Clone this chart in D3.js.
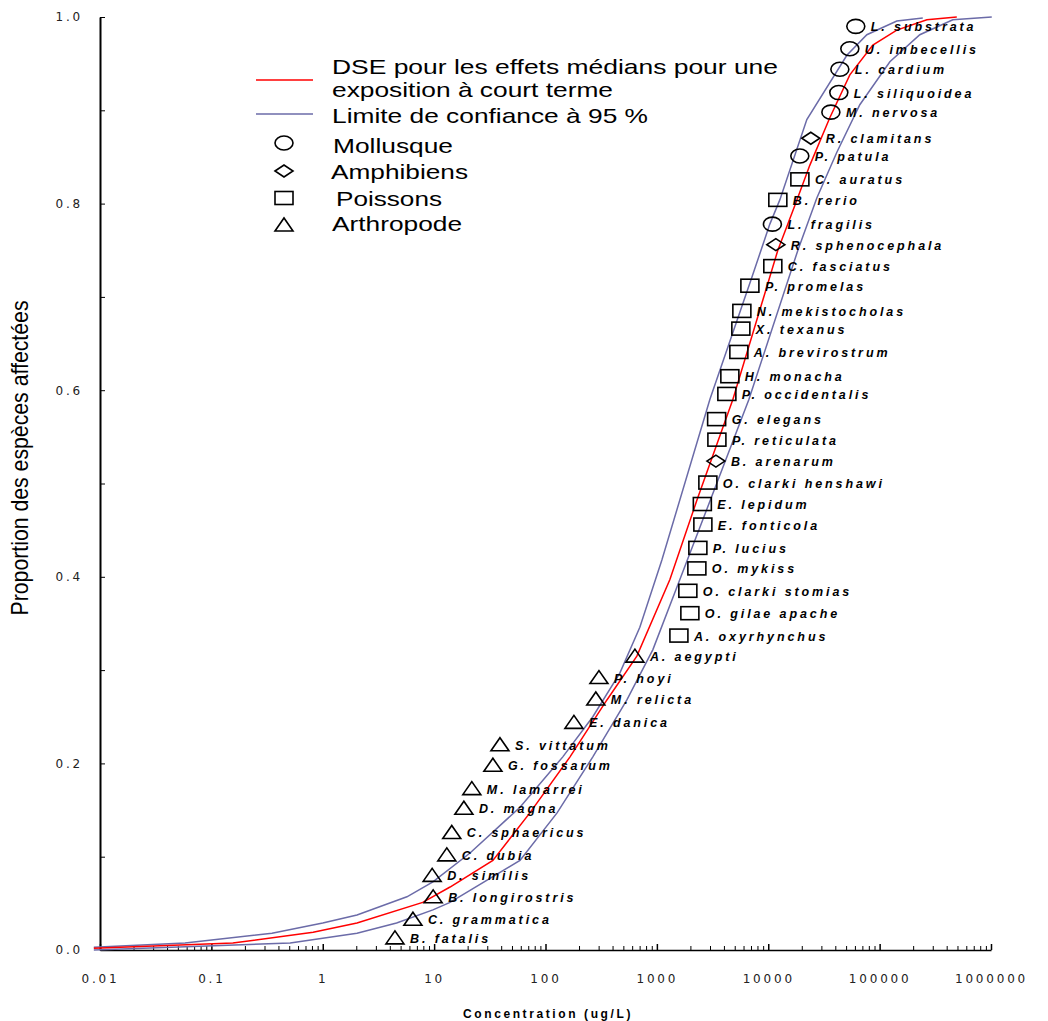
<!DOCTYPE html>
<html>
<head>
<meta charset="utf-8">
<script src="https://cdn.jsdelivr.net/npm/d3@7"></script>
<style>
  body { margin: 0; background: #fff; }
  .tick text { font-family: "DejaVu Sans", sans-serif; font-size: 12px; letter-spacing: 2.8px; fill: #222; }
  .sp { font-family: "Liberation Sans", Arial, sans-serif; font-size: 12.5px; font-weight: bold; font-style: italic; letter-spacing: 2.9px; }
  .leg { font-family: "Liberation Sans", Arial, sans-serif; font-size: 21px; }
</style>
</head>
<body>
<script>
// species, bottom to top
var species = ["B. fatalis", "C. grammatica", "B. longirostris", "D. similis", "C. dubia",
  "C. sphaericus", "D. magna", "M. lamarrei", "G. fossarum", "S. vittatum",
  "E. danica", "M. relicta", "P. hoyi", "A. aegypti", "A. oxyrhynchus",
  "O. gilae apache", "O. clarki stomias", "O. mykiss", "P. lucius", "E. fonticola",
  "E. lepidum", "O. clarki henshawi", "B. arenarum", "P. reticulata", "G. elegans",
  "P. occidentalis", "H. monacha", "A. brevirostrum", "X. texanus", "N. mekistocholas",
  "P. promelas", "C. fasciatus", "R. sphenocephala", "L. fragilis", "B. rerio",
  "C. auratus", "P. patula", "R. clamitans", "M. nervosa", "L. siliquoidea",
  "L. cardium", "U. imbecellis", "L. substrata"];
// A = arthropode, P = poisson, F = amphibien, M = mollusque
var groups = ["A","A","A","A","A","A","A","A","A","A",
  "A","A","A","A","P","P","P","P","P","P",
  "P","P","F","P","P","P","P","P","P","P",
  "P","P","F","M","P","P","M","F","M","M",
  "M","M","M"];
var conc = [4.45, 6.45, 9.8, 9.6, 13.0, 14.4, 18.5, 21.8, 33.7, 39,
  180, 283, 302, 635, 1577, 1978, 1897, 2286, 2334, 2588,
  2560, 2870, 3388, 3459, 3440, 4250, 4521, 5446, 5675, 5795,
  6842, 10990, 11700, 10900, 12190, 19230, 19200, 24100, 36500, 43000,
  43950, 54000, 61100];
var prop = [0.013, 0.033, 0.057, 0.080, 0.102, 0.126, 0.152, 0.173, 0.198, 0.220,
  0.244, 0.269, 0.292, 0.315, 0.337, 0.361, 0.385, 0.409, 0.431, 0.456,
  0.478, 0.501, 0.524, 0.547, 0.569, 0.596, 0.615, 0.641, 0.666, 0.685,
  0.712, 0.733, 0.756, 0.778, 0.804, 0.826, 0.851, 0.870, 0.898, 0.919,
  0.944, 0.966, 0.990];

// fitted curve (median) and 95% limits
var medConc = [0.0088, 0.156, 0.82, 2.03, 7.9, 13.9, 33.7, 72.4, 166, 356, 661, 1309, 2286, 4810, 12190, 17330, 23600, 35700, 54000, 86900, 142600, 265500, 493000];
var medProp = [0.002, 0.0075, 0.019, 0.029, 0.051, 0.0675, 0.096, 0.147, 0.207, 0.268, 0.315, 0.397, 0.482, 0.590, 0.750, 0.798, 0.841, 0.892, 0.938, 0.970, 0.986, 0.997, 1.0];
var upConc = [0.0088, 0.058, 0.35, 1.0, 2.03, 5.7, 9.75, 21, 59, 143, 266, 466, 703, 1109, 2990, 7130, 10330, 12700, 22200, 50800, 76800, 142600, 244000];
var upProp = [0.003, 0.0075, 0.018, 0.029, 0.0375, 0.057, 0.073, 0.104, 0.153, 0.207, 0.250, 0.297, 0.346, 0.418, 0.590, 0.721, 0.778, 0.804, 0.890, 0.959, 0.981, 0.9957, 0.9989];
var loConc = [0.0088, 0.51, 2.03, 4.6, 9.75, 13.9, 59, 127, 266, 538, 921, 1608, 6700, 18450, 27300, 41300, 66400, 123600, 229600, 454000, 1016000];
var loProp = [0.0, 0.0075, 0.018, 0.029, 0.043, 0.051, 0.096, 0.147, 0.207, 0.268, 0.322, 0.397, 0.590, 0.750, 0.806, 0.855, 0.906, 0.952, 0.981, 0.997, 1.0];

var xTicks = [0.01, 0.1, 1, 10, 100, 1000, 10000, 100000, 1000000];
var yTicks = [0, 0.2, 0.4, 0.6, 0.8, 1.0];
var yMinor = [0.1, 0.3, 0.5, 0.7, 0.9];

var legendItems = ["Mollusque", "Amphibiens", "Poissons", "Arthropode"];
var legendShapes = ["M", "F", "P", "A"];

var width = 1048, height = 1021;
var x = d3.scaleLog().domain([0.01, 1000000]).range([100, 991]);
var y = d3.scaleLinear().domain([0, 1]).range([950, 17]);

var svg = d3.select("body").append("svg")
    .attr("width", width)
    .attr("height", height);

// minor ticks on the log axis
var minorX = [];
xTicks.slice(0, -1).forEach(function(d) {
  for (var k = 2; k <= 9; k++) minorX.push(d * k);
});

svg.append("g")
    .attr("transform", "translate(0," + y(0) + ")")
    .call(d3.axisBottom(x).tickValues(minorX).tickSize(-4).tickSizeOuter(0).tickFormat(""))
    .call(function(g) { g.select(".domain").attr("stroke-width", 1.5); });

svg.append("g")
    .attr("transform", "translate(0," + y(0) + ")")
    .call(d3.axisBottom(x).tickValues(xTicks).tickSize(-6).tickSizeOuter(0)
      .tickPadding(24).tickFormat(function(d) { return d3.format("")(d); }))
    .call(function(g) { g.select(".domain").remove(); g.selectAll("line").attr("stroke-width", 1.5); });

svg.append("g")
    .attr("transform", "translate(" + x(0.01) + ",0)")
    .call(d3.axisLeft(y).tickValues(yMinor).tickSize(-5).tickSizeOuter(0).tickFormat(""))
    .call(function(g) { g.select(".domain").attr("stroke-width", 2); });

svg.append("g")
    .attr("transform", "translate(" + x(0.01) + ",0)")
    .call(d3.axisLeft(y).tickValues(yTicks).tickSize(-5).tickSizeOuter(0)
      .tickPadding(17).tickFormat(d3.format(".1f")))
    .call(function(g) { g.select(".domain").remove(); });

// axis titles
svg.append("text")
    .attr("x", 548).attr("y", 1018)
    .attr("text-anchor", "middle")
    .style("font-family", "'Liberation Sans', Arial, sans-serif")
    .style("font-size", "12px").style("font-weight", "bold")
    .style("letter-spacing", "2.6px")
    .text("Concentration (ug/L)");

svg.append("text")
    .attr("transform", "translate(28,458) rotate(-90)")
    .attr("text-anchor", "middle")
    .attr("textLength", 315).attr("lengthAdjust", "spacingAndGlyphs")
    .style("font-family", "'Liberation Sans', Arial, sans-serif")
    .style("font-size", "24px")
    .text("Proportion des espèces affectées");

// curves
var line = d3.line().x(function(d) { return x(d[0]); }).y(function(d) { return y(d[1]); });
function pairs(a, b) { return a.map(function(v, i) { return [v, b[i]]; }); }

svg.append("path").datum(pairs(upConc, upProp))
    .attr("d", line).attr("fill", "none").attr("stroke", "#6b6ba8").attr("stroke-width", 1.5);
svg.append("path").datum(pairs(loConc, loProp))
    .attr("d", line).attr("fill", "none").attr("stroke", "#6b6ba8").attr("stroke-width", 1.5);
svg.append("path").datum(pairs(medConc, medProp))
    .attr("d", line).attr("fill", "none").attr("stroke", "#ff0000").attr("stroke-width", 1.5);

// markers
function drawMarker(g, type) {
  if (type === "M") {
    g.append("ellipse").attr("rx", 9).attr("ry", 7);
  } else if (type === "F") {
    g.append("path").attr("d", "M-9,0L0,-6L9,0L0,6Z");
  } else if (type === "P") {
    g.append("rect").attr("x", -9).attr("y", -6.5).attr("width", 18).attr("height", 13);
  } else {
    g.append("path").attr("d", "M-9,6L0,-7L9,6Z");
  }
  g.selectAll("*").attr("fill", "none").attr("stroke", "#000").attr("stroke-width", 1.6);
}

var pts = svg.selectAll(".pt")
    .data(species)
  .enter().append("g")
    .attr("class", "pt")
    .attr("transform", function(d, i) { return "translate(" + x(conc[i]) + "," + y(prop[i]) + ")"; });

pts.each(function(d, i) { drawMarker(d3.select(this), groups[i]); });

pts.append("text")
    .attr("class", "sp")
    .attr("x", 15).attr("y", 5)
    .text(function(d) { return d; });

// legend
svg.append("line").attr("x1", 256).attr("x2", 313).attr("y1", 80).attr("y2", 80)
    .attr("stroke", "#ff0000").attr("stroke-width", 1.5);
svg.append("line").attr("x1", 256).attr("x2", 313).attr("y1", 114).attr("y2", 114)
    .attr("stroke", "#6b6ba8").attr("stroke-width", 1.5);

var legText = ["DSE pour les effets médians pour une", "exposition à court terme", "Limite de confiance à 95 %"];
var legLen = [446, 281, 316];
var legLy = [74, 97, 123];
legText.forEach(function(t, i) {
  svg.append("text").attr("class", "leg").attr("x", 332).attr("y", legLy[i])
      .attr("textLength", legLen[i]).attr("lengthAdjust", "spacingAndGlyphs")
      .text(t);
});

var legY = [143, 171, 198, 225];
var legTx = [333, 331, 336, 332];
var legTy = [153, 179, 206, 231];
var legW = [120, 137, 106, 130];
legendItems.forEach(function(name, i) {
  var g = svg.append("g").attr("transform", "translate(284," + legY[i] + ")");
  drawMarker(g, legendShapes[i]);
  svg.append("text").attr("class", "leg").attr("x", legTx[i]).attr("y", legTy[i])
      .attr("textLength", legW[i]).attr("lengthAdjust", "spacingAndGlyphs")
      .text(name);
});
</script>
</body>
</html>
